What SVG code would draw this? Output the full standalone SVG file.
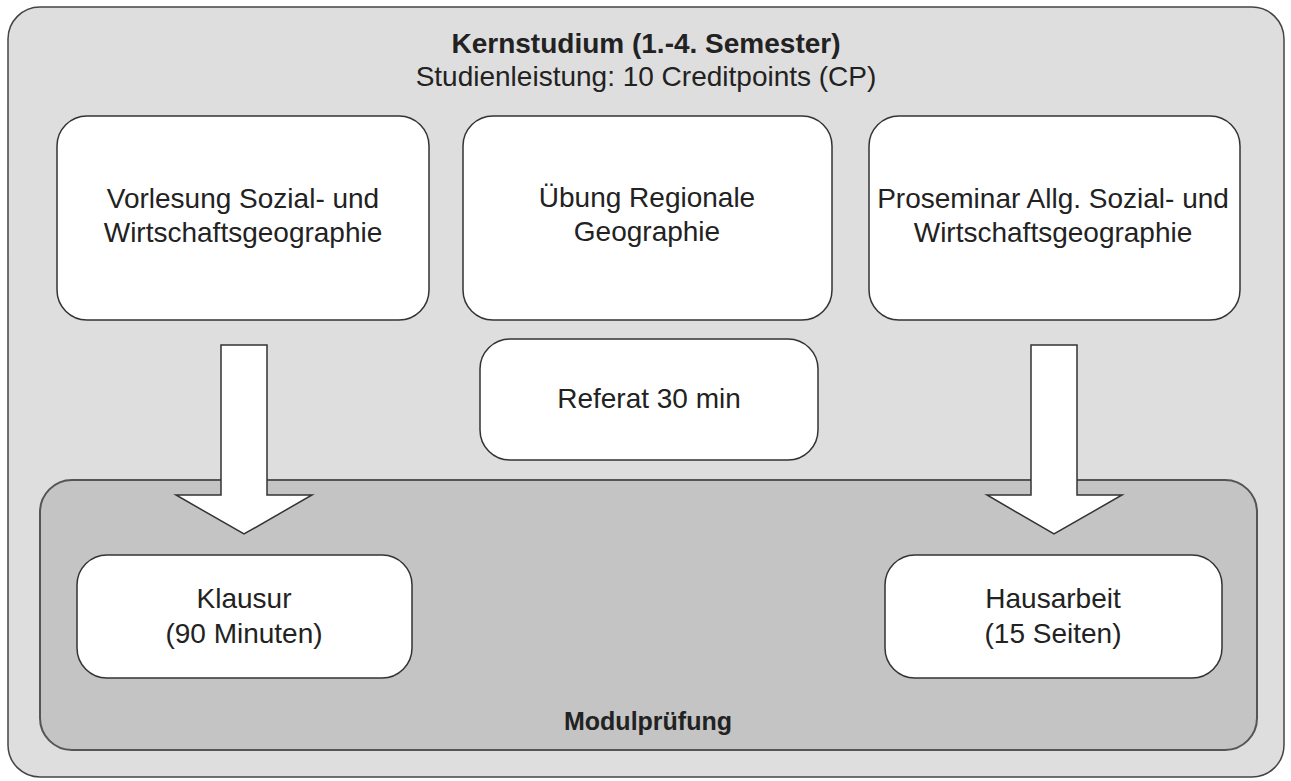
<svg xmlns="http://www.w3.org/2000/svg" width="1291" height="781" viewBox="0 0 1291 781">
<style>
.outer{fill:#dedede;stroke:#444;stroke-width:1.5}
.inner{fill:#c4c4c4;stroke:#555;stroke-width:2}
.box{fill:#fff;stroke:#333;stroke-width:1.5}
.arrow{fill:#fff;stroke:#333;stroke-width:1.5;stroke-linejoin:miter}
text{font-family:"Liberation Sans",Arial,sans-serif;font-size:28px;fill:#222;text-anchor:middle}
.b{font-weight:bold}
</style>
<rect width="1291" height="781" fill="#fff"/>
<g id="kernstudium">
<rect class="outer" x="8" y="7" width="1276" height="770" rx="32" ry="32"/>
<text class="b" x="646" y="53">Kernstudium (1.-4. Semester)</text>
<text x="646" y="86">Studienleistung: 10 Creditpoints (CP)</text>
</g>
<g id="modulpruefung">
<rect class="inner" x="40" y="480" width="1217" height="270" rx="32" ry="32"/>
<text class="b" x="648" y="730" style="font-size:25px">Modulprüfung</text>
</g>
<g id="vorlesung">
<rect class="box" x="57" y="116" width="372" height="204" rx="30" ry="30"/>
<text x="243" y="208">Vorlesung Sozial- und</text>
<text x="243" y="242">Wirtschaftsgeographie</text>
</g>
<g id="uebung">
<rect class="box" x="463" y="116" width="369" height="204" rx="30" ry="30"/>
<text x="647" y="207">Übung Regionale</text>
<text x="647" y="241">Geographie</text>
</g>
<g id="proseminar">
<rect class="box" x="869" y="116" width="371" height="204" rx="30" ry="30"/>
<text x="1053" y="208">Proseminar Allg. Sozial- und</text>
<text x="1053" y="242">Wirtschaftsgeographie</text>
</g>
<g id="referat">
<rect class="box" x="480" y="339" width="338" height="121" rx="30" ry="30"/>
<text x="649" y="408">Referat 30 min</text>
</g>
<g id="klausur">
<rect class="box" x="77" y="555" width="335" height="123" rx="30" ry="30"/>
<text x="244" y="608">Klausur</text>
<text x="244" y="643">(90 Minuten)</text>
</g>
<g id="hausarbeit">
<rect class="box" x="885" y="555" width="337" height="123" rx="30" ry="30"/>
<text x="1053" y="608">Hausarbeit</text>
<text x="1053" y="643">(15 Seiten)</text>
</g>
<g id="connectors">
<polygon class="arrow" points="221,345 267,345 267,495 312,495 244,534 176,495 221,495"/>
<polygon class="arrow" points="1031,345 1077,345 1077,495 1122,495 1054,534 987,495 1031,495"/>
</g>
</svg>
